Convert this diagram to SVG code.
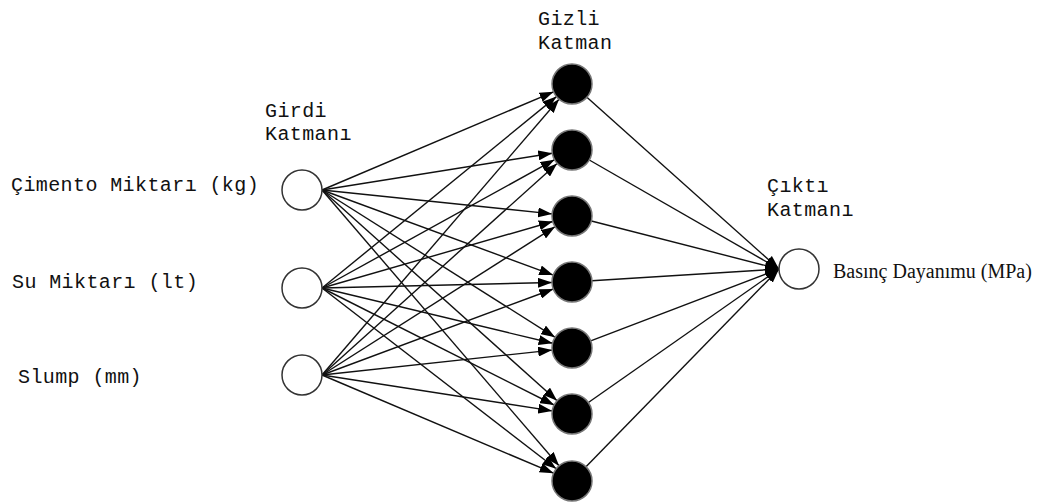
<svg xmlns="http://www.w3.org/2000/svg" width="1040" height="503" viewBox="0 0 1040 503">
<style>
.lbl{font-family:"Liberation Mono","Courier New",monospace;font-size:20px;letter-spacing:0.4px;fill:#111;}
.ser{font-family:"Liberation Serif","Times New Roman",serif;font-size:20px;fill:#111;}
.in{fill:#fff;stroke:#333;stroke-width:1.5;}
.hid{fill:#000;stroke:#777;stroke-width:1.5;}
.c line{stroke:#111;stroke-width:1.4;marker-end:url(#ah);}
</style>
<defs>
<marker id="ah" markerUnits="userSpaceOnUse" markerWidth="14" markerHeight="10" refX="14" refY="5" orient="auto">
<path d="M0,0 L14,5 L0,10 z" fill="#000"/>
</marker>
</defs>
<rect width="1040" height="503" fill="#fff"/>
<g id="connectors" class="c">
<line x1="322" y1="190" x2="553.6" y2="91.8"/>
<line x1="322" y1="190" x2="552.3" y2="153.2"/>
<line x1="322" y1="190" x2="552.1" y2="213.9"/>
<line x1="322" y1="190" x2="553.2" y2="275.1"/>
<line x1="322" y1="190" x2="555.1" y2="337.3"/>
<line x1="322" y1="190" x2="557.1" y2="400.7"/>
<line x1="322" y1="190" x2="559.0" y2="465.8"/>
<line x1="322" y1="288" x2="556.5" y2="96.6"/>
<line x1="322" y1="288" x2="554.5" y2="159.7"/>
<line x1="322" y1="288" x2="552.8" y2="221.5"/>
<line x1="322" y1="288" x2="552.0" y2="282.5"/>
<line x1="322" y1="288" x2="552.6" y2="343.3"/>
<line x1="322" y1="288" x2="554.1" y2="405.0"/>
<line x1="322" y1="288" x2="556.2" y2="468.8"/>
<line x1="322" y1="375" x2="559.0" y2="99.2"/>
<line x1="322" y1="375" x2="557.1" y2="163.4"/>
<line x1="322" y1="375" x2="555.1" y2="226.7"/>
<line x1="322" y1="375" x2="553.3" y2="289.0"/>
<line x1="322" y1="375" x2="552.1" y2="350.1"/>
<line x1="322" y1="375" x2="552.2" y2="410.9"/>
<line x1="322" y1="375" x2="553.6" y2="473.2"/>
<line x1="586.9" y1="97.3" x2="779" y2="269"/>
<line x1="589.3" y1="160.0" x2="779" y2="269"/>
<line x1="591.4" y1="221.0" x2="779" y2="269"/>
<line x1="592.0" y1="280.7" x2="779" y2="269"/>
<line x1="590.7" y1="340.9" x2="779" y2="269"/>
<line x1="588.4" y1="402.5" x2="779" y2="269"/>
<line x1="586.0" y1="466.7" x2="779" y2="269"/>
</g>
<g id="input1"><circle class="in" cx="302" cy="190" r="20"/><text class="lbl" x="11" y="191">Çimento Miktarı (kg)</text></g>
<g id="input2"><circle class="in" cx="302" cy="288" r="20"/><text class="lbl" x="12" y="288">Su Miktarı (lt)</text></g>
<g id="input3"><circle class="in" cx="302" cy="375" r="20"/><text class="lbl" x="18" y="383">Slump (mm)</text></g>
<g id="input-label"><text class="lbl" x="265" y="117">Girdi</text><text class="lbl" x="265" y="140">Katmanı</text></g>
<g id="hidden-label"><text class="lbl" x="538" y="25">Gizli</text><text class="lbl" x="538" y="49">Katman</text></g>
<g id="hidden1"><circle class="hid" cx="572" cy="84" r="20"/></g>
<g id="hidden2"><circle class="hid" cx="572" cy="150" r="20"/></g>
<g id="hidden3"><circle class="hid" cx="572" cy="216" r="20"/></g>
<g id="hidden4"><circle class="hid" cx="572" cy="282" r="20"/></g>
<g id="hidden5"><circle class="hid" cx="572" cy="348" r="20"/></g>
<g id="hidden6"><circle class="hid" cx="572" cy="414" r="20"/></g>
<g id="hidden7"><circle class="hid" cx="572" cy="481" r="20"/></g>
<g id="output-label"><text class="lbl" x="767" y="192">Çıktı</text><text class="lbl" x="767" y="216">Katmanı</text></g>
<g id="output"><circle class="in" cx="799" cy="269" r="20"/><text class="ser" x="833" y="278">Basınç Dayanımu (MPa)</text></g>
</svg>
